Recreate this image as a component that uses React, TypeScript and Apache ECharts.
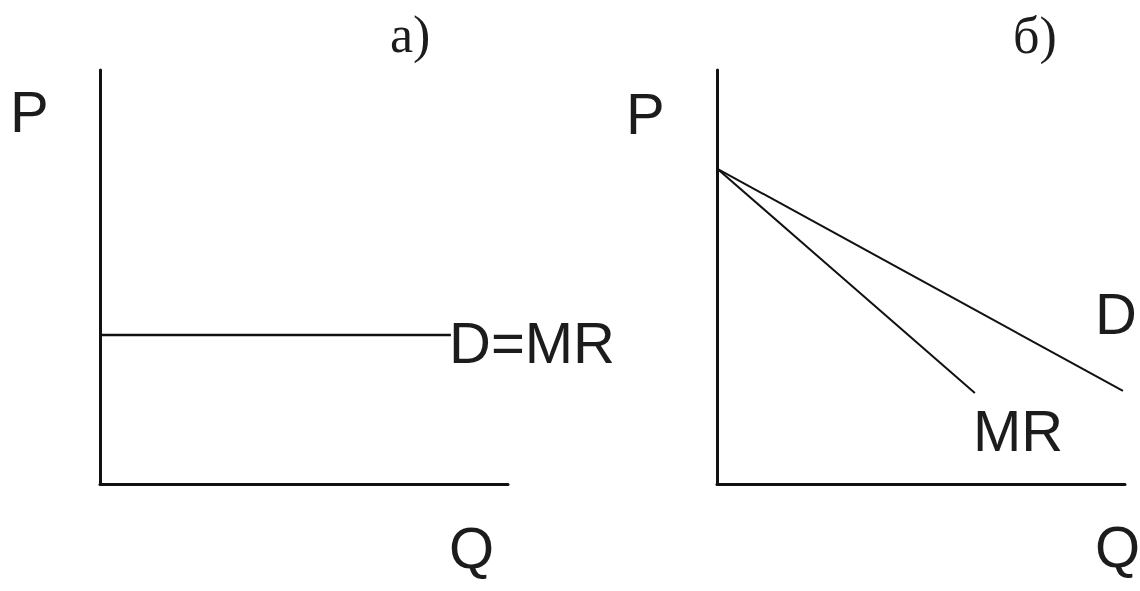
import React, { useEffect, useRef } from "react";
import * as echarts from "echarts";

// Panel a) : perfect competition, D = MR horizontal
const qFlat = [0, 8.6];
const pFlat = [3.6, 3.6];
// Panel б) : monopoly, downward demand and steeper MR
const qDemand = [0, 9.95];
const pDemand = [7.62, 2.25];
const qMR = [0, 6.32];
const pMR = [7.62, 2.2];

const axisLabels = { price: "P", quantity: "Q" };
const panelTitles = ["а)", "б)"];
const curveLabels = { flat: "D=MR", demand: "D", mr: "MR" };

const SANS = "Liberation Sans, Arial, sans-serif";
const SERIF = "Liberation Serif, Times New Roman, serif";
const TEXT = "#1c1c1c";
const LINE = "#111111";

function pairs(xs: number[], ys: number[]) {
  return xs.map((x, i) => [x, ys[i]]);
}

export default function App() {
  const ref = useRef<HTMLDivElement>(null);

  useEffect(() => {
    if (!ref.current) return;
    const chart = echarts.init(ref.current, undefined, { renderer: "svg" });

    const axisCommon = {
      type: "value" as const,
      min: 0,
      max: 10,
      axisLine: { show: true, onZero: false, lineStyle: { color: LINE, width: 3 } },
      axisTick: { show: false },
      axisLabel: { show: false },
      splitLine: { show: false },
    };

    const sansText = (text: string, x: number, y: number) => ({
      type: "text",
      x,
      y,
      silent: true,
      style: {
        text,
        fill: TEXT,
        font: `58px ${SANS}`,
        textAlign: "left",
        textVerticalAlign: "middle",
      },
    });
    const serifText = (text: string, x: number, y: number) => ({
      type: "text",
      x,
      y,
      silent: true,
      style: {
        text,
        fill: TEXT,
        font: `52px ${SERIF}`,
        textAlign: "left",
        textVerticalAlign: "middle",
      },
    });

    chart.setOption({
      animation: false,
      backgroundColor: "#ffffff",
      grid: [
        { left: 100, top: 70, width: 408, height: 414 },
        { left: 717, top: 70, width: 408, height: 414 },
      ],
      xAxis: [
        { ...axisCommon, gridIndex: 0 },
        { ...axisCommon, gridIndex: 1 },
      ],
      yAxis: [
        { ...axisCommon, gridIndex: 0 },
        { ...axisCommon, gridIndex: 1 },
      ],
      series: [
        {
          type: "line",
          xAxisIndex: 0,
          yAxisIndex: 0,
          data: pairs(qFlat, pFlat),
          showSymbol: false,
          lineStyle: { color: LINE, width: 2.5 },
        },
        {
          type: "line",
          xAxisIndex: 1,
          yAxisIndex: 1,
          data: pairs(qDemand, pDemand),
          showSymbol: false,
          lineStyle: { color: LINE, width: 2 },
        },
        {
          type: "line",
          xAxisIndex: 1,
          yAxisIndex: 1,
          data: pairs(qMR, pMR),
          showSymbol: false,
          lineStyle: { color: LINE, width: 2 },
        },
      ],
      graphic: [
        sansText(axisLabels.price, 10, 111),
        sansText(axisLabels.price, 626, 113),
        sansText(axisLabels.quantity, 449, 547),
        sansText(axisLabels.quantity, 1095, 546),
        sansText(curveLabels.flat, 449, 342),
        sansText(curveLabels.demand, 1095, 313),
        sansText(curveLabels.mr, 973, 430),
        serifText(panelTitles[0], 390, 34),
        serifText(panelTitles[1], 1013, 35),
      ],
    });

    return () => chart.dispose();
  }, []);

  return (
    <div
      ref={ref}
      style={{ position: "fixed", left: 0, top: 0, width: 1140, height: 591, background: "#fff" }}
    />
  );
}
